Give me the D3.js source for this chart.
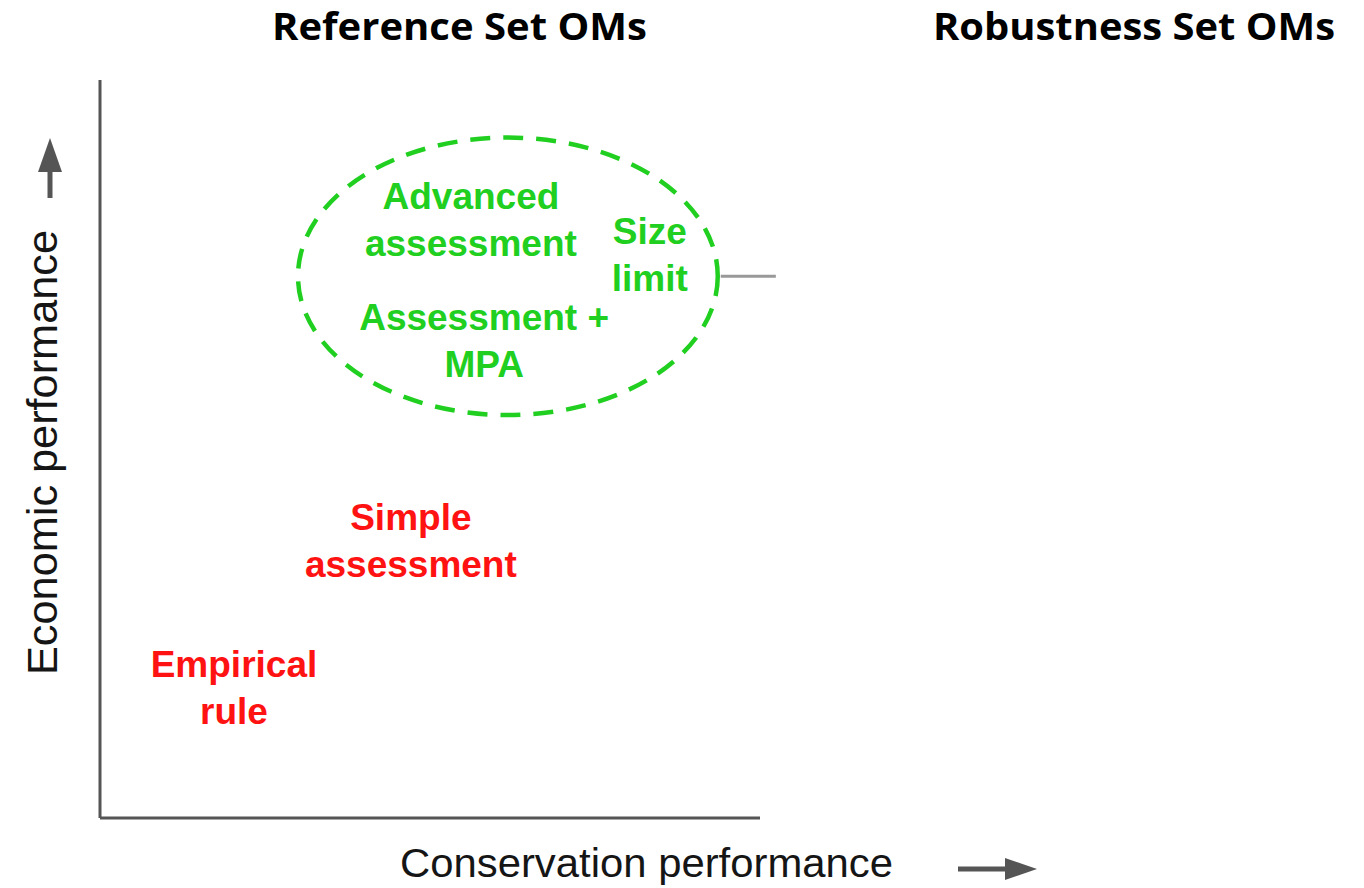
<!DOCTYPE html>
<html>
<head>
<meta charset="utf-8">
<script src="https://d3js.org/d3.v7.min.js"></script>
<style>
    body { margin: 0; background: #fff; }
</style>
</head>
<body>
<script>
// panel titles
var titles = ["Reference Set OMs", "Robustness Set OMs"];

// management procedures, lines of each label
var labelLines = [
    ["Empirical", "rule"],
    ["Simple", "assessment"],
    ["Advanced", "assessment"],
    ["Size", "limit"],
    ["Assessment +", "MPA"]
];
// conservation (x) and economic (y) performance, 0 - 10 scale
var conservation = [2.03, 4.71, 5.62, 8.33, 5.82];
var economic = [1.91, 3.90, 8.25, 7.78, 6.61];
var groups = ["low", "low", "high", "high", "high"];

// ellipse round the best performing group
var ellipseCenter = [6.18, 7.34];
var ellipseRadius = [3.18, 1.88];
var connectorEnd = 10.24;

var axisLabels = ["Conservation performance", "Economic performance"];

window.onload = function() {
    drawChart();
};

function drawChart() {
    var width = 1364;
    var height = 888;

    var svg = d3.select("body")
                .append("svg")
                .attr("width", width)
                .attr("height", height);

    var x = d3.scaleLinear().domain([0, 10]).range([100, 760]);
    var y = d3.scaleLinear().domain([0, 10]).range([818, 80]);

    var colour = d3.scaleOrdinal()
                .domain(["low", "high"])
                .range(["#ff1212", "#20cf20"]);

    // titles
    var titleX = [272, 933];
    var titleW = [375, 402];
    svg.selectAll(".title")
        .data(titles)
        .enter()
        .append("text")
        .attr("class", "title")
        .attr("x", function(d, i) { return titleX[i]; })
        .attr("y", 40)
        .attr("textLength", function(d, i) { return titleW[i]; })
        .attr("lengthAdjust", "spacingAndGlyphs")
        .style("font-family", "'Open Sans', Lato, sans-serif")
        .style("font-weight", "bold")
        .style("font-size", "37px")
        .text(function(d) { return d; });

    // axes, plain lines without ticks
    var axisColour = "#555";
    svg.append("line")
        .attr("x1", x(0)).attr("y1", y(0))
        .attr("x2", x(0)).attr("y2", y(10))
        .attr("stroke", axisColour)
        .attr("stroke-width", 3);
    svg.append("line")
        .attr("x1", x(0)).attr("y1", y(0))
        .attr("x2", x(10)).attr("y2", y(0))
        .attr("stroke", axisColour)
        .attr("stroke-width", 3);

    // axis labels
    svg.append("text")
        .attr("x", 400)
        .attr("y", 877)
        .attr("textLength", 493)
        .attr("lengthAdjust", "spacingAndGlyphs")
        .style("font-family", "'Liberation Sans', Arial, sans-serif")
        .style("font-size", "41px")
        .attr("fill", "#151515")
        .text(axisLabels[0]);

    svg.append("text")
        .attr("transform", "translate(57,675) rotate(-90)")
        .attr("textLength", 445)
        .attr("lengthAdjust", "spacingAndGlyphs")
        .style("font-family", "'Liberation Sans', Arial, sans-serif")
        .style("font-size", "43px")
        .attr("fill", "#151515")
        .text(axisLabels[1]);

    // arrows next to the axis labels
    var arrowColour = "#555";
    svg.append("line")
        .attr("x1", 958).attr("y1", 869)
        .attr("x2", 1007).attr("y2", 869)
        .attr("stroke", arrowColour)
        .attr("stroke-width", 5);
    svg.append("path")
        .attr("d", "M1005,858 L1037,869 L1005,880 Z")
        .attr("fill", arrowColour);

    svg.append("line")
        .attr("x1", 50).attr("y1", 198)
        .attr("x2", 50).attr("y2", 170)
        .attr("stroke", arrowColour)
        .attr("stroke-width", 5);
    svg.append("path")
        .attr("d", "M38,172 L50,138 L62,172 Z")
        .attr("fill", arrowColour);

    // dashed ellipse
    var cx = x(ellipseCenter[0]);
    var cy = y(ellipseCenter[1]);
    var rx = x(ellipseRadius[0]) - x(0);
    var ry = y(0) - y(ellipseRadius[1]);

    svg.append("line")
        .attr("x1", cx + rx + 3).attr("y1", cy)
        .attr("x2", x(connectorEnd)).attr("y2", cy)
        .attr("stroke", "#999")
        .attr("stroke-width", 3);

    svg.append("ellipse")
        .attr("cx", cx)
        .attr("cy", cy)
        .attr("rx", rx)
        .attr("ry", ry)
        .attr("fill", "none")
        .attr("stroke", colour("high"))
        .attr("stroke-width", 4.5)
        .attr("stroke-dasharray", "20,13");

    // labels
    var label = svg.selectAll(".label")
                .data(labelLines)
                .enter()
                .append("text")
                .attr("class", "label")
                .attr("text-anchor", "middle")
                .attr("fill", function(d, i) { return colour(groups[i]); })
                .style("font-family", "'Liberation Sans', Arial, sans-serif")
                .style("font-weight", "bold")
                .style("font-size", "37px");

    label.selectAll("tspan")
        .data(function(d, i) { return d.map(function(t) { return {text: t, i: i}; }); })
        .enter()
        .append("tspan")
        .attr("x", function(d) { return x(conservation[d.i]); })
        .attr("y", function(d, j) { return y(economic[d.i]) + j * 47; })
        .text(function(d) { return d.text; });
}
</script>
</body>
</html>
